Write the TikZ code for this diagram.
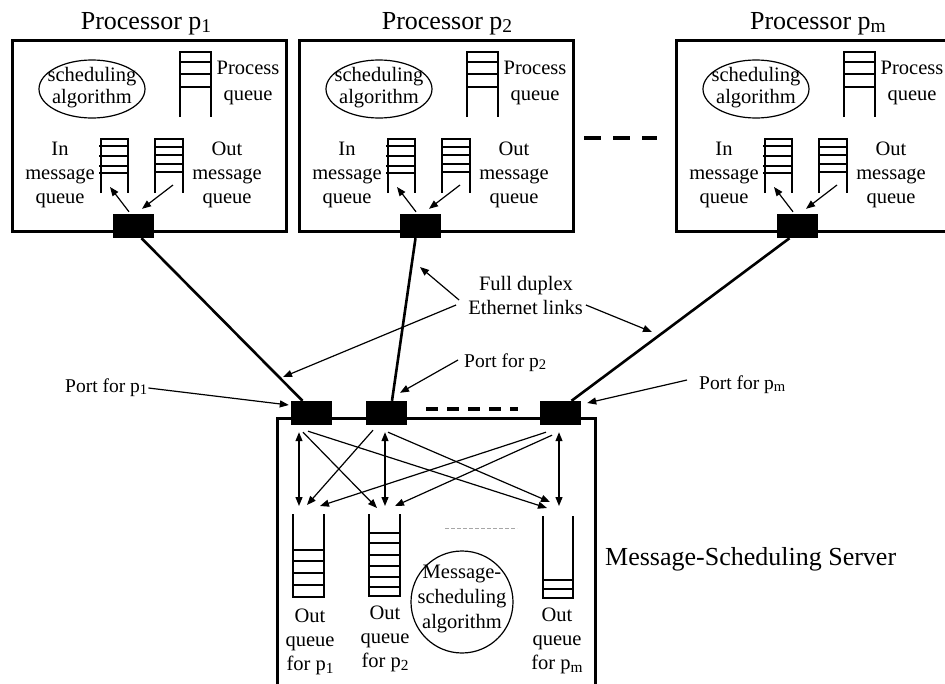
\documentclass[tikz,border=0pt]{standalone}
\usepackage{fontspec}
\setmainfont{Liberation Serif}
\usetikzlibrary{arrows.meta,calc}
\newcommand\mysub[1]{\raisebox{-0.32ex}{\scalebox{0.75}{#1}}}
\tikzset{
  boxline/.style={line width=3pt},
  portbox/.style={fill=black, draw=none, minimum width=41pt, minimum height=24pt, inner sep=0pt},
  linkline/.style={line width=2.6pt},
  arr/.style={line width=1.2pt,-{Triangle[length=9pt,width=7pt]}},
  darr/.style={line width=1.2pt,{Triangle[length=9pt,width=7pt]}-{Triangle[length=9pt,width=7pt]}},
  qline/.style={line width=1.2pt},
  txt/.style={font=\fontsize{20.5}{24}\selectfont, inner sep=0pt, align=center},
  plab/.style={font=\fontsize{19.5}{23}\selectfont, inner sep=0pt},
  ttl/.style={font=\fontsize{26}{30}\selectfont, inner sep=0pt},
}
\newcommand\procbox[2]{% #1 xshift, #2 suffix
\begin{scope}[xshift=#1pt]
  \draw[boxline] (12,40) rectangle (286,231);
  \draw[qline] (92,89) ellipse [x radius=53, y radius=29];
  \node[txt, anchor=base, font=\fontsize{20.5}{22}\selectfont] (sa#2) at (92,103) {scheduling\\algorithm};
  % process queue
  \draw[qline] (180,117) -- (180,52) -- (211,52) -- (211,117);
  \foreach \yy in {62,74,87} \draw[qline] (180,\yy) -- (211,\yy);
  \node[txt, anchor=base, font=\fontsize{20.5}{26}\selectfont] (pq#2) at (248,100) {Process\\queue};
  % in message queue
  \draw[qline] (101,193) -- (101,139) -- (128,139) -- (128,193);
  \foreach \yy in {146,156,166,173} \draw[qline] (99,\yy) -- (128,\yy);
  % out message queue
  \draw[qline] (155,193) -- (155,139) -- (183,139) -- (183,193);
  \foreach \yy in {147,155,164,172} \draw[qline] (155,\yy) -- (183,\yy);
  \node[txt, anchor=base] (inl#2) at (60,203) {In\\message\\queue};
  \node[txt, anchor=base] (outl#2) at (227,203) {Out\\message\\queue};
  \coordinate (inq#2) at (114.5,193);
  \coordinate (outq#2) at (169,193);
  \node[portbox] (tp#2) at (133.5,226) {};
  \draw[arr] ([xshift=-4.5pt,yshift=2pt]tp#2.north) -- ([xshift=-4.5pt,yshift=6pt]inq#2);
  \draw[arr] ([xshift=4pt,yshift=8pt]outq#2) -- ([xshift=8.5pt,yshift=5pt]tp#2.north);
\end{scope}}
\begin{document}
\begin{tikzpicture}[x=1pt,y=-1pt]
\useasboundingbox (0,0) rectangle (945,683);

% processor boxes
\procbox{0}{1}
\procbox{287}{2}
\procbox{664}{m}
\node[ttl, anchor=base] (t1) at (146,29) {Processor p\mysub{1}};
\node[ttl, anchor=base] (t2) at (447,29) {Processor p\mysub{2}};
\node[ttl, anchor=base] (tm) at (818,29) {Processor p\mysub{m}};
\draw[line width=4pt, dash pattern=on 17pt off 12pt] (584,138) -- (657,138);

% server
\draw[boxline] (277,690) -- (277,418) -- (595,418) -- (595,690);
\node[portbox] (bp1) at (311.5,413) {};
\node[portbox] (bp2) at (386,413) {};
\node[portbox] (bpm) at (560.5,413) {};
\draw[line width=4pt, dash pattern=on 12pt off 9pt] (426,409) -- (518,409);

% links
\draw[linkline] ([xshift=8pt]tp1.south) -- ([xshift=-9pt]bp1.north);
\draw[linkline] ([xshift=-5pt]tp2.south) -- ([xshift=6pt]bp2.north);
\draw[linkline] ([xshift=-8pt]tpm.south) -- ([xshift=11pt]bpm.north);

% link labels
\node[txt, anchor=base] (fd) at (526,290) {Full duplex};
\node[txt, anchor=base] (eth) at (525.5,314) {Ethernet links};
\coordinate (l1tip) at (283,377);
\coordinate (l2tip) at (420,267);
\coordinate (lmtip) at (652,332);
\draw[arr] ([xshift=-12pt,yshift=9pt]eth.base west) -- (l1tip);
\draw[arr] ([xshift=-9pt,yshift=14pt]eth.base west) -- (l2tip);
\draw[arr] ([xshift=3pt,yshift=9pt]eth.base east) -- (lmtip);

% port labels
\node[plab, anchor=base west] (pl1) at (65,392) {Port for p\mysub{1}};
\node[plab, anchor=base west] (pl2) at (464,367) {Port for p\mysub{2}};
\node[plab, anchor=base west] (plm) at (699,389) {Port for p\mysub{m}};
\draw[arr] ([xshift=1pt,yshift=4pt]pl1.base east) -- ([xshift=-2pt,yshift=8pt]bp1.west);
\draw[arr] ([xshift=-6pt,yshift=7pt]pl2.base west) -- ([xshift=14pt,yshift=8pt]bp2.north);
\draw[arr] ([xshift=-12pt,yshift=9pt]plm.base west) -- ([xshift=6pt,yshift=10pt]bpm.east);

% server queues
\draw[qline] (293,514) -- (293,597) -- (324,597) -- (324,514);
\foreach \yy in {550,561,573,585} \draw[qline] (293,\yy) -- (324,\yy);
\draw[qline] (369,514) -- (369,596) -- (400,596) -- (400,514);
\foreach \yy in {533,543,555,566,577,587} \draw[qline] (369,\yy) -- (400,\yy);
\draw[qline] (543,516) -- (543,598) -- (573,598) -- (573,516);
\foreach \yy in {580,589} \draw[qline] (543,\yy) -- (573,\yy);
\coordinate (q1) at (308.5,514);
\coordinate (q2) at (384.5,514);
\coordinate (qm) at (558,516);

% server arrows
\draw[darr] ([xshift=-12.5pt,yshift=-7pt]bp1.south) -- ([xshift=-9.5pt,yshift=8pt]q1);
\draw[darr] ([xshift=-1pt,yshift=-7pt]bp2.south) -- ([xshift=0.5pt,yshift=8pt]q2);
\draw[darr] ([xshift=-1.5pt,yshift=-7pt]bpm.south) -- ([xshift=1pt,yshift=10pt]qm);
\draw[arr] ([xshift=-8.5pt,yshift=-7pt]bp1.south) -- ([xshift=-7.5pt,yshift=6pt]q2);
\draw[arr] ([xshift=-3.5pt,yshift=-6pt]bp1.south) -- ([xshift=-11pt,yshift=8pt]qm);
\draw[arr] ([xshift=-13pt,yshift=-5pt]bp2.south) -- ([xshift=-1.5pt,yshift=9pt]q1);
\draw[arr] ([xshift=2pt,yshift=-7pt]bp2.south) -- ([xshift=-8pt,yshift=14pt]qm);
\draw[arr] ([xshift=-14.5pt,yshift=-7pt]bpm.south) -- ([xshift=11.5pt,yshift=8pt]q1);
\draw[arr] ([xshift=-8.5pt,yshift=-10pt]bpm.south) -- ([xshift=10.5pt,yshift=8pt]q2);

% message scheduling algorithm
\draw[gray!70, line width=0.8pt, dash pattern=on 4pt off 2pt] (445,528) -- (517,528);
\node[circle, draw, qline, minimum size=102pt, inner sep=0pt] (msa) at (462,602) {};
\node[txt, anchor=base, font=\fontsize{20.5}{25}\selectfont] (msat) at (462,628) {Message-\\scheduling\\algorithm};

% out queue labels
\node[txt, anchor=base] (oq1) at (310,670) {Out\\queue\\for p\mysub{1}};
\node[txt, anchor=base] (oq2) at (385,667) {Out\\queue\\for p\mysub{2}};
\node[txt, anchor=base] (oqm) at (557,669) {Out\\queue\\for p\mysub{m}};

\node[ttl, anchor=base west] (srv) at (605,565) {Message-Scheduling Server};
\end{tikzpicture}
\end{document}
